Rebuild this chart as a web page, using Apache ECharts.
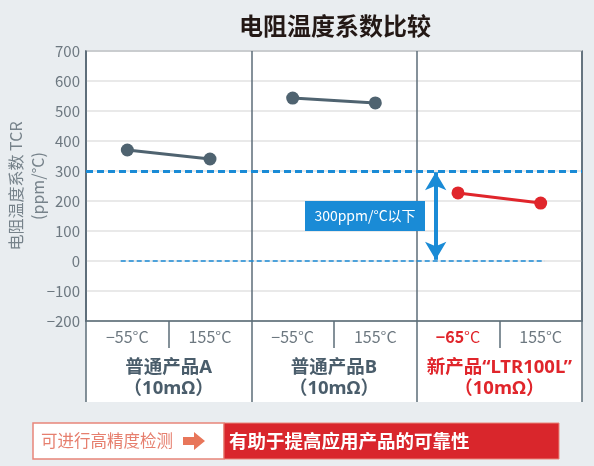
<!DOCTYPE html>
<html>
<head>
<meta charset="utf-8">
<script src="https://cdn.jsdelivr.net/npm/echarts@6/dist/echarts.min.js"></script>
<style>
  html, body { margin: 0; padding: 0; background: #e9edf0; }
  #main { width: 594px; height: 466px; }
</style>
</head>
<body>
<div id="main"></div>
<script>
// 温度点（每个产品两个）
const tempLabels = ['−55°C', '155°C', '−55°C', '155°C', '−65°C', '155°C'];
const productNames = ['普通产品A\n（10mΩ）', '普通产品B\n（10mΩ）', '新产品“LTR100L”\n（10mΩ）'];
// TCR 数值 (ppm/°C)
const tcrA = [370, 340];
const tcrB = [543, 527];
const tcrNew = [227, 193];
const yTicks = [-200, -100, 0, 100, 200, 300, 400, 500, 600, 700];
const limitValue = 300;

const FONT = '"Noto Sans CJK SC", "Noto Sans", sans-serif';
const LATIN_FIRST = '"Noto Sans", "Noto Sans CJK SC", sans-serif';
const GRAY = '#4f6370';
const RED = '#e0252b';
const BLUE = '#1a8bd6';
const FRAME = '#5c6d78';

const chart = echarts.init(document.getElementById('main'));

function pairs(vals, start) {
  return vals.map((v, i) => [start + i, v]);
}

const option = {
  backgroundColor: '#e9edf0',
  textStyle: { fontFamily: FONT },
  title: {
    text: '电阻温度系数比较',
    left: 330,
    textAlign: 'center',
    top: 9,
    textStyle: { fontSize: 24, fontWeight: 'bold', color: '#231815', fontFamily: FONT }
  },
  grid: {
    left: 86, right: 12, top: 51, bottom: 145,
    outerBoundsMode: 'none',
    containLabel: false,
    show: true, backgroundColor: '#fff', borderColor: FRAME, borderWidth: 1.5
  },
  graphic: [
    // 下方表格区域的白底
    { type: 'rect', z: -1, shape: { x: 86, y: 321, width: 496, height: 81 }, style: { fill: '#fff' } },
    // 底部说明条
    { type: 'rect', shape: { x: 33, y: 423, width: 191, height: 36 }, style: { fill: '#fff', stroke: '#e8857a', lineWidth: 1.5 } },
    { type: 'rect', shape: { x: 224, y: 423, width: 335, height: 36 }, style: { fill: '#d9262c', stroke: '#e8857a', lineWidth: 1 } },
    { type: 'text', style: { text: '可进行高精度检测', x: 41, y: 441, verticalAlign: 'middle', font: '16.5px ' + FONT, fill: '#e67f6e' } },
    { type: 'polygon', shape: { points: [[183, 437], [194, 437], [194, 432], [205, 441], [194, 450], [194, 445], [183, 445]] }, style: { fill: '#e8765a' } },
    { type: 'text', style: { text: '有助于提高应用产品的可靠性', x: 229, y: 441, verticalAlign: 'middle', font: 'bold 18.5px ' + FONT, fill: '#fff' } }
  ],
  xAxis: [
    {
      type: 'category',
      data: tempLabels,
      position: 'bottom',
      axisLine: { show: true, onZero: false, lineStyle: { color: FRAME, width: 1.5 } },
      axisTick: { show: true, interval: 0, length: 27, lineStyle: { color: FRAME, width: 1.5 } },
      axisLabel: {
        interval: 0, margin: 8, fontSize: 16, color: '#6d7880', fontFamily: FONT,
        formatter: (v, i) => i === 4 ? '{r|−65}{rc|°C}' : v,
        rich: {
          r: { fontSize: 16, fontWeight: 'bold', color: RED, fontFamily: FONT },
          rc: { fontSize: 16, color: RED, fontFamily: FONT }
        }
      },
      splitLine: { show: false }
    },
    {
      type: 'category',
      data: productNames,
      position: 'bottom',
      axisLine: { show: false, onZero: false },
      axisTick: { show: true, interval: 0, length: 81, lineStyle: { color: FRAME, width: 1.5 } },
      splitLine: { show: true, interval: 0, lineStyle: { color: FRAME, width: 1.5 } },
      axisLabel: {
        interval: 0, margin: 36, fontSize: 18.5, fontWeight: 'bold', lineHeight: 21, fontFamily: LATIN_FIRST,
        color: (v, i) => i === 2 ? RED : '#4a5d6b'
      }
    },
    { type: 'value', position: 'top', min: 0, max: 6, show: false }
  ],
  yAxis: {
    type: 'value',
    min: yTicks[0],
    max: yTicks[yTicks.length - 1],
    interval: 100,
    name: '电阻温度系数 TCR\n(ppm/°C)',
    nameLocation: 'middle',
    nameRotate: 90,
    nameGap: 37,
    nameMoveOverlap: false,
    nameTextStyle: { fontSize: 16, color: '#76828a', lineHeight: 22, fontFamily: FONT },
    axisLine: { show: true, lineStyle: { color: FRAME, width: 1.5 } },
    axisTick: { show: false },
    axisLabel: { fontSize: 15, color: '#6d7880', margin: 6, fontFamily: FONT, formatter: v => String(v).replace('-', '−') },
    splitLine: { lineStyle: { color: '#e2e2e2', width: 1.5 } }
  },
  series: [
    {
      type: 'line', xAxisIndex: 0, data: pairs(tcrA, 0),
      symbol: 'circle', symbolSize: 13, lineStyle: { color: GRAY, width: 3 }, itemStyle: { color: GRAY }
    },
    {
      type: 'line', xAxisIndex: 0, data: pairs(tcrB, 2),
      symbol: 'circle', symbolSize: 13, lineStyle: { color: GRAY, width: 3 }, itemStyle: { color: GRAY }
    },
    {
      type: 'line', xAxisIndex: 0, data: pairs(tcrNew, 4), z: 5,
      symbol: 'circle', symbolSize: 13, lineStyle: { color: RED, width: 3 }, itemStyle: { color: RED }
    },
    {
      // 标注：300ppm 限值线、0 线、双向箭头、标签框
      type: 'line', xAxisIndex: 2, data: [], silent: true,
      markLine: {
        silent: true,
        animation: false,
        label: { show: false },
        data: [
          [{ coord: [0, limitValue], symbol: 'none', lineStyle: { color: BLUE, width: 3, type: [7, 4] } },
           { coord: [6, limitValue], symbol: 'none' }],
          [{ coord: [0.42, 0], symbol: 'none', lineStyle: { color: BLUE, width: 1.5, type: [5, 3] } },
           { coord: [5.55, 0], symbol: 'none' }],
          [{ coord: [4.23, limitValue - 4], symbol: 'arrow', symbolSize: [16, 18], lineStyle: { color: BLUE, width: 4, type: 'solid' } },
           { coord: [4.23, 4], symbol: 'arrow', symbolSize: [16, 18] }]
        ]
      },
      markPoint: {
        silent: true,
        animation: false,
        data: [{
          coord: [3.375, 150],
          symbol: 'rect',
          symbolSize: [120, 30],
          itemStyle: { color: BLUE },
          label: { show: true, formatter: '300ppm/°C以下', color: '#fff', fontSize: 14, fontFamily: FONT }
        }]
      }
    }
  ]
};

chart.setOption(option);
</script>
</body>
</html>
